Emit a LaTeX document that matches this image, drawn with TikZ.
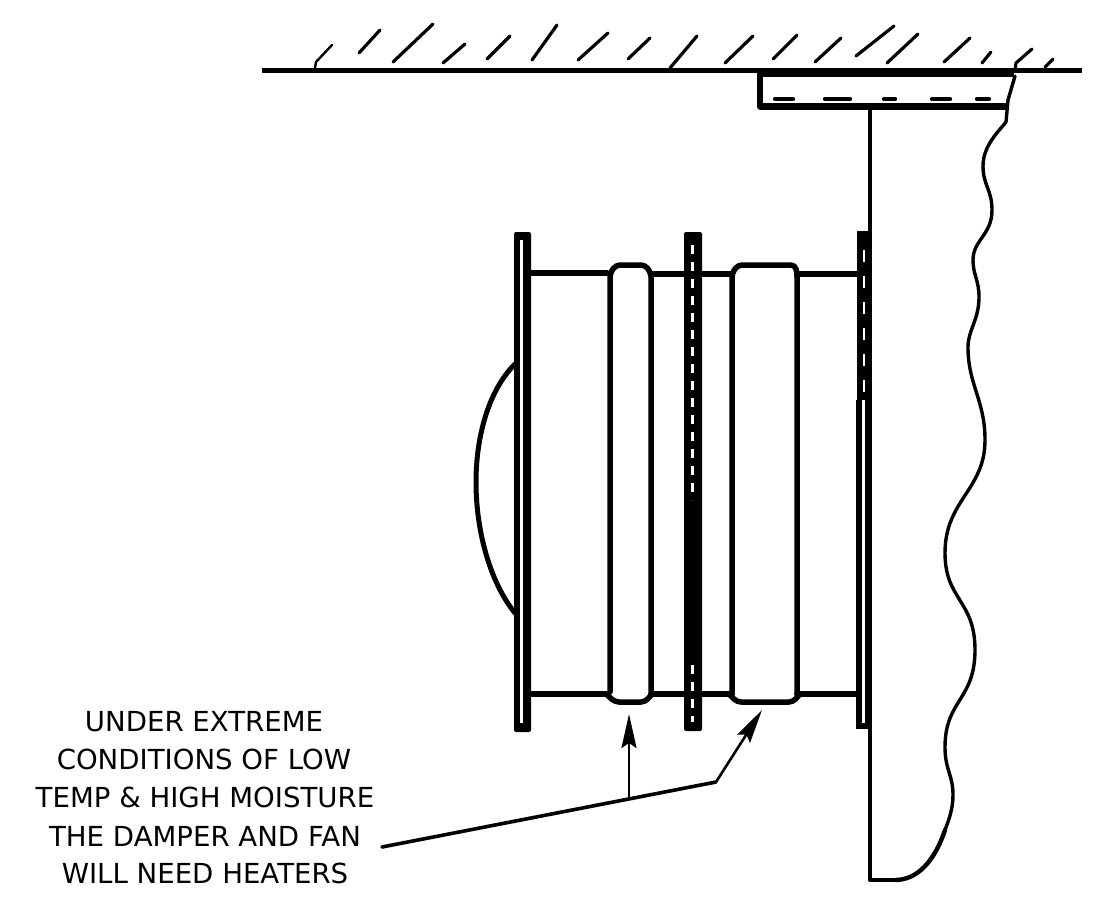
\documentclass[tikz,border=0pt]{standalone}
\usepackage{fontspec}
\setmainfont{DejaVu Sans}
\usetikzlibrary{arrows.meta}
\tikzset{
  ink/.style={draw=black,line cap=round,line join=round},
  hatch/.style={ink,line width=3.2pt},
  wall/.style={ink,line width=5pt,line cap=butt},
  duct/.style={ink,line width=6pt},
  band/.style={ink,line width=5.5pt,rounded corners=4pt},
  leader/.style={ink,line width=3.6pt},
  lbl/.style={font=\fontsize{27.6}{30}\selectfont,inner sep=0pt,anchor=center,text=black},
  tip/.style={-{Stealth[length=34pt,width=15pt,inset=5pt]}}
}
\begin{document}
\begin{tikzpicture}[x=1pt,y=-1pt]
\useasboundingbox (0,0) rectangle (1114,906);
\fill[white] (0,0) rectangle (1114,906);
% ceiling
\draw[wall] (262,70.5) -- (1082,70.5);
\draw[wall] (759,74) -- (1014,74);
\foreach \a/\b/\c/\d in {359/53/380/30,393/62/433/24,443/63/465/44,487/59/510/36,532/60/557/25,578/60/608/33,628/59/650/38,725/63/753/36,773/59/797/35,815/62/841/38,856/56/894/26,887/63/918/34,944/62/970/38,982/63/991/52,1045/67/1053/59}
  \draw[hatch] (\a,\b) -- (\c,\d);
\draw[hatch,line width=2.4pt] (315,68) -- (316,62) -- (332,45);
\draw[hatch] (670,68) -- (697,36);
\draw[hatch] (1015,70) -- (1016,63) -- (1032,49);
% bracket
\draw[ink,line width=6.5pt,line cap=butt] (760,72) -- (760,106.5) -- (1008,106.5);
\foreach \a/\b in {775/793,825/850,884/895,932/950,977/989}
  \draw[ink,line width=4.4pt] (\a,99) -- (\b,99);
% casing edge
\draw[ink,line width=4.2pt] (870,107) -- (870,880) -- (895,880);
\draw[ink,line width=3.4pt] (1015,76) -- (1008,100) -- (1006,122)
  .. controls (1000,130) and (983,145) .. (983,166)
  .. controls (983,185) and (992,190) .. (992,210)
  .. controls (992,235) and (973,240) .. (973,260)
  .. controls (973,275) and (979,280) .. (979,297)
  .. controls (979,320) and (968,330) .. (968,347)
  .. controls (968,385) and (985,400) .. (985,440)
  .. controls (985,490) and (945,500) .. (945,553)
  .. controls (945,600) and (975,600) .. (975,650)
  .. controls (975,700) and (945,700) .. (945,747)
  .. controls (945,770) and (953,775) .. (953,795)
  .. controls (953,810) and (948,822) .. (945,830);
\draw[ink,line width=4.4pt] (945,830) .. controls (935,860) and (918,880) .. (895,880);
% duct top and bottom
\draw[duct] (528,273) -- (607,273);
\draw[duct] (528,694) -- (607,694);
\draw[duct] (651,274) -- (732,274);
\draw[duct] (651,694) -- (732,694);
\draw[duct] (797,274) -- (858,274);
\draw[duct] (797,694) -- (858,694);
% band 1
\draw[band] (610,692) -- (610,273) -- (616,265) -- (645,265) -- (651,273) -- (651,692);
\draw[band] (606,694) -- (615,702) -- (645,702) -- (652,694);
% band 2
\draw[band] (732,692) -- (732,273) -- (738,265) -- (795,265) -- (797,273) -- (797,692);
\draw[band] (729,694) -- (737,702) -- (793,702) -- (800,694);
% left flange
\fill[black,rounded corners=2pt] (514,232) rectangle (531,732);
\fill[white] (519.5,240) rectangle (523,723);
% middle flange
\fill[black,rounded corners=2pt] (684,232) rectangle (702,731);
\draw[white,line width=2.8pt,dash pattern=on 9pt off 8pt] (692.5,245) -- (692.5,500);
\draw[white,line width=2.8pt,dash pattern=on 9pt off 8pt] (692.5,665) -- (692.5,722);
% right flange
\fill[black] (857,231) rectangle (872,400);
\draw[white,line width=2.2pt,dash pattern=on 12pt off 14pt] (864,250) -- (864,400);
\fill[black] (856,400) rectangle (872,729);
\fill[white] (861.5,400) rectangle (865,723);
% hub
\draw[ink,line width=5pt] (515,364) .. controls (487,392) and (476,440) .. (476,482) .. controls (476,535) and (492,585) .. (515,613);
% leader
\coordinate (start) at (382,847);
\coordinate (elbow) at (716,782);
\coordinate (junction) at (629,798);
\coordinate (tipa) at (629,714);
\coordinate (tipb) at (762,710);
\draw[leader] (start) -- (elbow);
\draw[ink,line width=2.6pt,tip,line cap=butt] (elbow) -- (tipb);
\draw[ink,line width=2.6pt,tip,line cap=butt] (junction) -- (tipa);
% text
\node[lbl] (l1) at (204,722) {UNDER EXTREME};
\node[lbl] (l2) at (204,759) {CONDITIONS OF LOW};
\node[lbl] (l3) at (205,797) {TEMP \& HIGH MOISTURE};
\node[lbl] (l4) at (205,836) {THE DAMPER AND FAN};
\node[lbl] (l5) at (205,873) {WILL NEED HEATERS};
\end{tikzpicture}
\end{document}
